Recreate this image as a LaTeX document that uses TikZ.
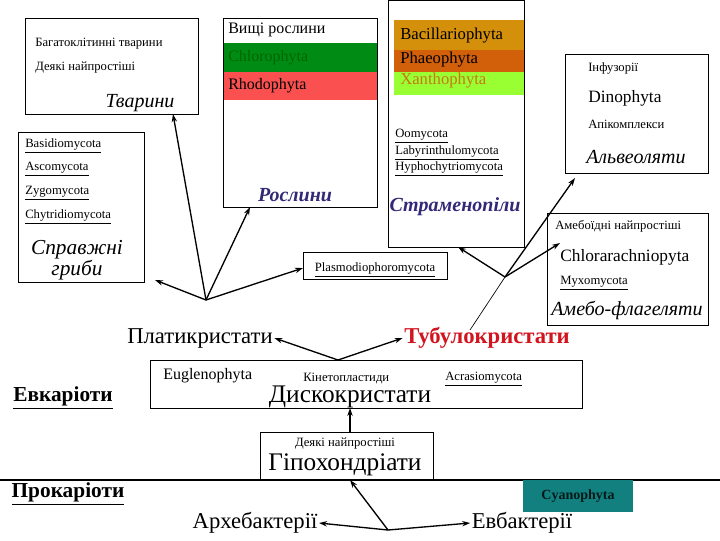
\documentclass[tikz,border=0pt]{standalone}
\usepackage{fontspec}
\setmainfont{Liberation Serif}
\newfontfamily\tms{Liberation Serif}
\usetikzlibrary{arrows.meta}
\definecolor{rosl}{RGB}{50,40,120}
\definecolor{grn}{RGB}{0,140,20}
\definecolor{rd}{RGB}{250,80,80}
\definecolor{bac}{RGB}{212,144,10}
\definecolor{pha}{RGB}{210,96,10}
\definecolor{xan}{RGB}{153,255,51}
\definecolor{xtx}{RGB}{200,120,20}
\definecolor{cya}{RGB}{19,128,128}
\definecolor{tub}{RGB}{210,20,30}
\begin{document}
\begin{tikzpicture}[x=0.75pt,y=-0.75pt,
  every node/.append style={execute at begin node=\tms},
  box/.style={draw,line width=0.6pt},
  lt/.style={anchor=west,inner sep=0pt,font=\fontsize{9.5}{10}\selectfont},
  arr/.style={-{Stealth[length=6pt,width=4pt]},line width=1pt}]
\useasboundingbox (0,0) rectangle (720,540);
% Тварини
\draw[box] (25,18) rectangle (198,114);
\node[lt] (t1) at (35,44) {Багатоклітинні тварини};
\node[lt] (t2) at (35,68) {Деякі найпростіші};
\node[inner sep=0pt,font=\itshape\fontsize{15}{16}\selectfont] (tv) at (140,103) {Тварини};
\coordinate (tvb) at (173,114);
% Рослини
\fill[grn] (223,43) rectangle (377,72);
\fill[rd] (223,72) rectangle (377,100);
\draw[box] (223,18) rectangle (377,207);
\node[lt,font=\fontsize{12}{13}\selectfont] (v1) at (228,30) {Вищі рослини};
\node[lt,font=\fontsize{12}{13}\selectfont,text=black!60!green] (v2) at (228,58) {Chlorophyta};
\node[lt,font=\fontsize{12}{13}\selectfont] (v3) at (228,86) {Rhodophyta};
\node[inner sep=0pt,text=rosl,font=\bfseries\itshape\fontsize{15}{16}\selectfont] (ro) at (295,195) {Рослини};
\coordinate (rob) at (250,207);
% Гриби
\draw[box] (18,132) rectangle (144,282);
\node[lt] (g1) at (25,146) {\underline{Basidiomycota}};
\node[lt] (g2) at (25,169) {\underline{Ascomycota}};
\node[lt] (g3) at (25,193) {\underline{Zygomycota}};
\node[lt] (g4) at (25,217) {\underline{Chytridiomycota}};
\node[align=center,inner sep=0pt,font=\itshape\fontsize{16}{14}\selectfont] (gr) at (77,260) {Справжні\\гриби};
\coordinate (grb) at (155,280);
% Страменопіли
\fill[bac] (394,20) rectangle (524,50);
\fill[pha] (394,50) rectangle (524,72);
\fill[xan] (394,72) rectangle (524,95);
\draw[box] (388,0) rectangle (524,247);
\node[lt,font=\fontsize{12.5}{13}\selectfont] (s1) at (400,36) {Bacillariophyta};
\node[lt,font=\fontsize{12.5}{13}\selectfont] (s2) at (400,60) {Phaeophyta};
\node[lt,font=\fontsize{12.5}{13}\selectfont,text=xtx] (s3) at (400,81) {Xanthophyta};
\node[lt] (s4) at (395,136) {\underline{Oomycota}};
\node[lt] (s5) at (395,153) {\underline{Labyrinthulomycota}};
\node[lt] (s6) at (395,169) {\underline{Hyphochytriomycota}};
\node[inner sep=0pt,text=rosl,font=\bfseries\itshape\fontsize{15}{16}\selectfont] (st) at (455,207) {Страменопіли};
\coordinate (stb) at (458,247);
% Альвеоляти
\draw[box] (565,54) rectangle (708,173);
\node[lt] (a1) at (588,68) {Інфузорії};
\node[lt,font=\fontsize{13}{14}\selectfont] (a2) at (588,98) {Dinophyta};
\node[lt] (a3) at (588,124) {Апікомплекси};
\node[lt,font=\itshape\fontsize{15}{16}\selectfont] (al) at (586,157) {Альвеоляти};
\coordinate (alb) at (575,178);
% Амебо-флагеляти
\draw[box] (547,213) rectangle (708,325);
\node[lt] (m1) at (555,226) {Амебоїдні найпростіші};
\node[lt,font=\fontsize{13}{14}\selectfont] (m2) at (560,257) {Chlorarachniopyta};
\node[lt] (m3) at (560,283) {\underline{Myxomycota}};
\node[lt,font=\itshape\fontsize{15}{16}\selectfont] (am) at (551,310) {Амебо-флагеляти};
\coordinate (amb) at (560,243);
% Plasmodiophoromycota
\draw[box] (303,252) rectangle (447,279);
\node[inner sep=0pt,font=\fontsize{9.5}{10}\selectfont] (pl) at (375,270) {\underline{Plasmodiophoromycota}};
\coordinate (plb) at (303,268);
% Платикристати / Тубулокристати
\node[inner sep=1pt,font=\fontsize{17}{18}\selectfont] (pk) at (200,338) {Платикристати};
\node[inner sep=1pt,text=tub,font=\bfseries\fontsize{17}{18}\selectfont] (tk) at (487,338) {Тубулокристати};
% Дискокристати
\draw[box] (150,360) rectangle (582,408);
\node[lt,font=\fontsize{12}{13}\selectfont] (d1) at (163,376) {Euglenophyta};
\node[lt] (d2) at (303,379) {Кінетопластиди};
\node[lt] (d3) at (445,379) {\underline{Acrasiomycota}};
\node[inner sep=0pt,font=\fontsize{19}{20}\selectfont] (dk) at (350,397) {Дискокристати};
\coordinate (dkt) at (338,360);
\coordinate (dkb) at (350,408);
\node[inner sep=0pt,font=\bfseries\fontsize{16}{17}\selectfont] (ev) at (63,398) {\underline{Евкаріоти}};
% Гіпохондріати
\draw[box] (260,432) rectangle (433,480);
\node[inner sep=0pt,font=\fontsize{9.5}{10}\selectfont] (h1) at (345,444) {Деякі найпростіші};
\node[inner sep=0pt,font=\fontsize{19}{20}\selectfont] (hk) at (345,465) {Гіпохондріати};
\coordinate (hkt) at (350,432);
\coordinate (hkb) at (350,480);
\draw[line width=0.8pt] (0,480) -- (720,480);
\node[inner sep=0pt,font=\bfseries\fontsize{16}{17}\selectfont] (pr) at (68,494) {\underline{Прокаріоти}};
\node[fill=cya,minimum width=83pt,minimum height=24pt,inner sep=0pt,font=\bfseries\fontsize{10.5}{11}\selectfont,text=black!80!cya] (cy) at (578,496) {Cyanophyta};
\node[inner sep=1pt,font=\fontsize{17}{18}\selectfont] (ar) at (255,523) {Архебактерії};
\node[inner sep=1pt,font=\fontsize{17}{18}\selectfont] (eb) at (522,523) {Евбактерії};
% hubs
\coordinate (h0) at (388,530);
\coordinate (hp) at (206,300);
\coordinate (ht) at (505,277);
\coordinate (tkt) at (470,330);
% arrows
\draw[arr] (h0) -- (ar.east);
\draw[arr] (h0) -- (eb.west);
\draw[arr] (h0) -- (hkb);
\draw[arr] (hkt) -- (dkb);
\draw[arr] (dkt) -- (pk.east);
\draw[arr] (dkt) -- (tk.west);
\draw[arr] (hp) -- (tvb);
\draw[arr] (hp) -- (grb);
\draw[arr] (hp) -- (rob);
\draw[arr] (hp) -- (plb);
\draw[line width=0.5pt] (tkt) -- (ht);
\draw[arr] (ht) -- (stb);
\draw[arr] (ht) -- (amb);
\draw[arr] (ht) -- (alb);
\end{tikzpicture}
\end{document}
